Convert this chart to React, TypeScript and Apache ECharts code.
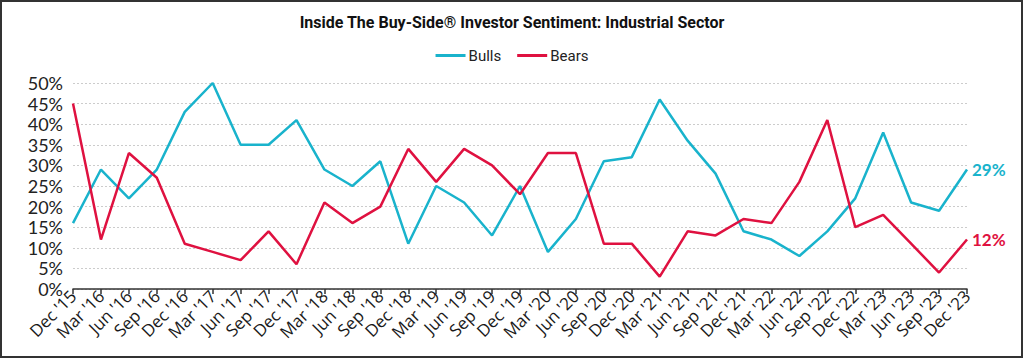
import React, { useEffect, useRef } from "react";
import * as echarts from "echarts";

const categories = [
  "Dec '15", "Mar '16", "Jun '16", "Sep '16", "Dec '16", "Mar '17", "Jun '17", "Sep '17", "Dec '17",
  "Mar '18", "Jun '18", "Sep '18", "Dec '18", "Mar '19", "Jun '19", "Sep '19", "Dec '19",
  "Mar '20", "Jun '20", "Sep '20", "Dec '20", "Mar '21", "Jun '21", "Sep '21", "Dec '21",
  "Mar '22", "Jun '22", "Sep '22", "Dec '22", "Mar '23", "Jun '23", "Sep '23", "Dec '23",
];

const bulls = [16, 29, 22, 29, 43, 50, 35, 35, 41, 29, 25, 31, 11, 25, 21, 13, 25, 9, 17, 31, 32, 46, 36, 28, 14, 12, 8, 14, 22, 38, 21, 19, 29];
const bears = [45, 12, 33, 27, 11, 9, 7, 14, 6, 21, 16, 20, 34, 26, 34, 30, 23, 33, 33, 11, 11, 3, 14, 13, 17, 16, 26, 41, 15, 18, 11, 4, 12];

const CYAN = "#19b3cc";
const RED = "#df1140";

export default function App() {
  const ref = useRef<HTMLDivElement>(null);
  useEffect(() => {
    if (!ref.current) return;
    const chart = echarts.init(ref.current, null, { renderer: "svg" });
    chart.setOption({
      animation: false,
      backgroundColor: "#ffffff",
      title: {
        text: "Inside The Buy-Side® Investor Sentiment: Industrial Sector",
        left: "center",
        top: 9,
        textStyle: {
          fontFamily: "'Liberation Sans Narrow', 'Roboto', sans-serif",
          fontWeight: "bold",
          fontSize: 16,
          color: "#111",
        },
      },
      legend: {
        top: 43,
        left: "center",
        itemWidth: 30,
        itemHeight: 3,
        itemGap: 16,
        icon: "rect",
        textStyle: { fontFamily: "'Liberation Sans Narrow', 'Roboto', sans-serif", fontSize: 15, color: "#222", padding: [0, 0, 0, -2] },
        data: ["Bulls", "Bears"],
      },
      graphic: [
        {
          type: "rect",
          shape: { x: 1, y: 1, width: 1021, height: 356 },
          style: { fill: "none", stroke: "#333", lineWidth: 2 },
          silent: true,
        },
      ],
      grid: { left: 73, right: 57, top: 83, bottom: 73, containLabel: false },
      xAxis: {
        type: "category",
        data: categories,
        boundaryGap: false,
        axisLine: { lineStyle: { color: "#333", width: 1.5 } },
        axisTick: { show: true, length: 5, lineStyle: { color: "#333", width: 1.5 } },
        axisLabel: {
          rotate: 45,
          interval: 0,
          fontFamily: "'Open Sans', sans-serif",
          fontSize: 17,
          color: "#1a1a1a",
          margin: 4,
        },
      },
      yAxis: {
        type: "value",
        min: 0,
        max: 50,
        interval: 5,
        axisLine: { show: false },
        axisTick: { show: false },
        axisLabel: {
          formatter: "{value}%",
          fontFamily: "'Lato', sans-serif",
          fontSize: 18,
          color: "#222",
          margin: 10,
        },
        splitLine: { show: true, lineStyle: { color: "#cccccc", type: [2, 2], width: 1 } },
      },
      series: [
        {
          name: "Bulls",
          type: "line",
          data: bulls,
          showSymbol: false,
          symbol: "none",
          lineStyle: { color: CYAN, width: 2.5 },
          itemStyle: { color: CYAN },
          endLabel: {
            show: true,
            formatter: "{c}%",
            color: CYAN,
            fontFamily: "'Lato', sans-serif",
            fontWeight: "bold",
            fontSize: 17,
            distance: 5,
          },
        },
        {
          name: "Bears",
          type: "line",
          data: bears,
          showSymbol: false,
          symbol: "none",
          lineStyle: { color: RED, width: 2.5 },
          itemStyle: { color: RED },
          endLabel: {
            show: true,
            formatter: "{c}%",
            color: RED,
            fontFamily: "'Lato', sans-serif",
            fontWeight: "bold",
            fontSize: 17,
            distance: 5,
          },
        },
      ],
    });
    return () => chart.dispose();
  }, []);
  return (
    <div
      ref={ref}
      style={{ position: "fixed", left: 0, top: 0, width: 1024, height: 362 }}
    />
  );
}
